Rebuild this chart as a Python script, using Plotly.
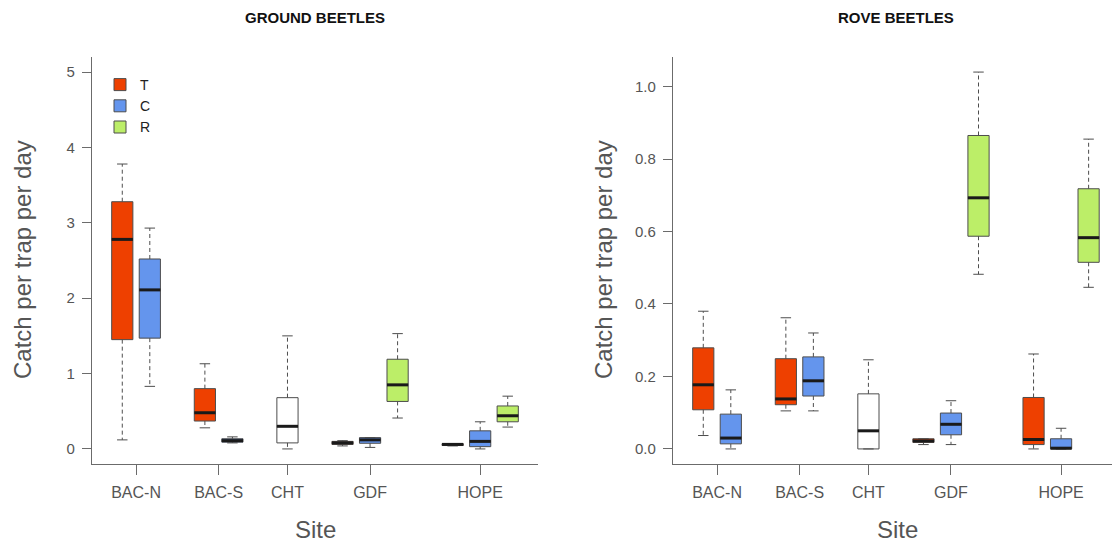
import plotly.graph_objects as go

# ---------------- data ----------------
site_labels = ["BAC-N", "BAC-S", "CHT", "GDF", "HOPE"]
site_tick_pos = [1.5, 4.5, 7, 10, 14]

treatments = ["T", "C", "R"]
pos_T = [1, 4, 9, 13]      # BAC-N, BAC-S, GDF, HOPE
pos_C = [2, 5, 10, 14]     # BAC-N, BAC-S, GDF, HOPE
pos_R = [11, 15]           # GDF, HOPE
pos_CHT = [7]              # CHT (single, untreated)

# Ground beetles: lower whisker, Q1, median, Q3, upper whisker
gb_T_low = [0.12, 0.28, 0.04, 0.04]
gb_T_q1 = [1.45, 0.37, 0.06, 0.045]
gb_T_med = [2.78, 0.48, 0.08, 0.06]
gb_T_q3 = [3.28, 0.80, 0.10, 0.07]
gb_T_up = [3.78, 1.13, 0.11, 0.07]

gb_C_low = [0.83, 0.08, 0.02, 0.00]
gb_C_q1 = [1.47, 0.09, 0.075, 0.03]
gb_C_med = [2.11, 0.11, 0.12, 0.10]
gb_C_q3 = [2.52, 0.135, 0.15, 0.24]
gb_C_up = [2.93, 0.16, 0.15, 0.36]

gb_R_low = [0.41, 0.29]
gb_R_q1 = [0.63, 0.36]
gb_R_med = [0.85, 0.44]
gb_R_q3 = [1.19, 0.57]
gb_R_up = [1.53, 0.70]

gb_X_low = [0.00]
gb_X_q1 = [0.08]
gb_X_med = [0.30]
gb_X_q3 = [0.68]
gb_X_up = [1.50]

# Rove beetles
rb_T_low = [0.037, 0.105, 0.012, 0.000]
rb_T_q1 = [0.108, 0.122, 0.018, 0.012]
rb_T_med = [0.177, 0.138, 0.022, 0.026]
rb_T_q3 = [0.279, 0.249, 0.028, 0.142]
rb_T_up = [0.380, 0.362, 0.028, 0.262]

rb_C_low = [0.000, 0.105, 0.012, 0.000]
rb_C_q1 = [0.014, 0.146, 0.039, 0.000]
rb_C_med = [0.030, 0.188, 0.068, 0.002]
rb_C_q3 = [0.096, 0.254, 0.099, 0.028]
rb_C_up = [0.163, 0.320, 0.133, 0.057]

rb_R_low = [0.482, 0.446]
rb_R_q1 = [0.587, 0.515]
rb_R_med = [0.693, 0.583]
rb_R_q3 = [0.865, 0.718]
rb_R_up = [1.040, 0.855]

rb_X_low = [0.000]
rb_X_q1 = [0.000]
rb_X_med = [0.050]
rb_X_q3 = [0.152]
rb_X_up = [0.246]

# ---------------- styling ----------------
W, H = 1112, 544
col = {"T": "#EE4000", "C": "#6495ED", "R": "#BCEE68", "X": "#FFFFFF"}
border = "#4d4d4d"
axis_col = "#6b6b6b"
text_col = "#555555"
font_fam = "Liberation Sans, Arial, Helvetica, sans-serif"
box_w = 0.77
cap_half = 0.19

fig = go.Figure()


def add_panel(xa, ya, groups, legend):
    med_x, med_y, wh_x, wh_y, cap_x, cap_y = [], [], [], [], [], []
    for key, pos, low, q1, med, q3, up in groups:
        fig.add_trace(go.Box(
            x=pos, q1=q1, median=med, q3=q3, lowerfence=q1, upperfence=q3,
            width=box_w, whiskerwidth=0, fillcolor=col[key],
            line=dict(color=border, width=1), boxpoints=False,
            name=key if key != "X" else "CHT",
            showlegend=(legend and key != "X"), legendgroup=key,
            xaxis=xa, yaxis=ya, hoverinfo="skip"))
        for p, lo, a, m, b, hi in zip(pos, low, q1, med, q3, up):
            med_x += [p - box_w / 2, p + box_w / 2, None]
            med_y += [m, m, None]
            wh_x += [p, p, None, p, p, None]
            wh_y += [b, hi, None, a, lo, None]
            cap_x += [p - cap_half, p + cap_half, None, p - cap_half, p + cap_half, None]
            cap_y += [hi, hi, None, lo, lo, None]
    fig.add_trace(go.Scatter(x=wh_x, y=wh_y, mode="lines", showlegend=False,
                             line=dict(color=border, width=1, dash="4px,3px"),
                             xaxis=xa, yaxis=ya, hoverinfo="skip"))
    fig.add_trace(go.Scatter(x=cap_x, y=cap_y, mode="lines", showlegend=False,
                             line=dict(color=border, width=1),
                             xaxis=xa, yaxis=ya, hoverinfo="skip"))
    fig.add_trace(go.Scatter(x=med_x, y=med_y, mode="lines", showlegend=False,
                             line=dict(color="#1a1a1a", width=3),
                             xaxis=xa, yaxis=ya, hoverinfo="skip"))


add_panel("x", "y", [
    ("T", pos_T, gb_T_low, gb_T_q1, gb_T_med, gb_T_q3, gb_T_up),
    ("C", pos_C, gb_C_low, gb_C_q1, gb_C_med, gb_C_q3, gb_C_up),
    ("R", pos_R, gb_R_low, gb_R_q1, gb_R_med, gb_R_q3, gb_R_up),
    ("X", pos_CHT, gb_X_low, gb_X_q1, gb_X_med, gb_X_q3, gb_X_up),
], True)
add_panel("x2", "y2", [
    ("T", pos_T, rb_T_low, rb_T_q1, rb_T_med, rb_T_q3, rb_T_up),
    ("C", pos_C, rb_C_low, rb_C_q1, rb_C_med, rb_C_q3, rb_C_up),
    ("R", pos_R, rb_R_low, rb_R_q1, rb_R_med, rb_R_q3, rb_R_up),
    ("X", pos_CHT, rb_X_low, rb_X_q1, rb_X_med, rb_X_q3, rb_X_up),
], False)

y_bot = 1 - 464 / H
y_top = 1 - 57 / H
xcommon = dict(showgrid=False, zeroline=False, showline=True, linecolor=axis_col,
               linewidth=1.3, ticks="outside", ticklen=10, tickwidth=1.3,
               tickcolor=axis_col, tickmode="array", tickvals=site_tick_pos,
               ticktext=site_labels, ticklabelstandoff=4,
               tickfont=dict(size=16, color=text_col, family=font_fam),
               fixedrange=True)
ycommon = dict(showgrid=False, zeroline=False, showline=True, linecolor=axis_col,
               linewidth=1.3, ticks="outside", ticklen=9, tickwidth=1.3,
               tickcolor=axis_col, ticklabelstandoff=4,
               tickfont=dict(size=15, color=text_col, family=font_fam),
               fixedrange=True)

fig.update_layout(
    width=W, height=H,
    margin=dict(l=0, r=0, t=0, b=0),
    paper_bgcolor="white", plot_bgcolor="white",
    boxmode="overlay",
    font=dict(family=font_fam, color=text_col),
    xaxis=dict(domain=[92 / W, 538 / W], range=[-0.1, 16.1], anchor="y", **xcommon),
    xaxis2=dict(domain=[673 / W, 1.0], range=[-0.1, 15.85], anchor="y2", **xcommon),
    yaxis=dict(domain=[y_bot, y_top], range=[-0.2, 5.2], anchor="x",
               tickvals=[0, 1, 2, 3, 4, 5], **ycommon),
    yaxis2=dict(domain=[y_bot, y_top], range=[-0.0416, 1.0816], anchor="x2",
                tickvals=[0, 0.2, 0.4, 0.6, 0.8, 1.0], tickformat=".1f", **ycommon),
    legend=dict(x=100 / W, y=1 - 69 / H, xanchor="left", yanchor="top",
                font=dict(size=14, color="#222222", family=font_fam),
                bgcolor="rgba(0,0,0,0)", tracegroupgap=0, traceorder="normal"),
    showlegend=True,
)

ann = [
    ("GROUND BEETLES", 315, 18, 0, 15, "#111111", True),
    ("ROVE BEETLES", 896, 18, 0, 15, "#111111", True),
    ("Catch per trap per day", 22, 260, -90, 24, text_col, False),
    ("Catch per trap per day", 603, 260, -90, 24, text_col, False),
    ("Site", 315, 529, 0, 24, text_col, False),
    ("Site", 897, 529, 0, 24, text_col, False),
]
for txt, px, py, ang, sz, c, bold in ann:
    fig.add_annotation(text=f"<b>{txt}</b>" if bold else txt, x=px / W, y=1 - py / H,
                       xref="paper", yref="paper", xanchor="center", yanchor="middle",
                       textangle=ang, showarrow=False,
                       font=dict(size=sz, color=c, family=font_fam))

fig.write_html("out.html")
